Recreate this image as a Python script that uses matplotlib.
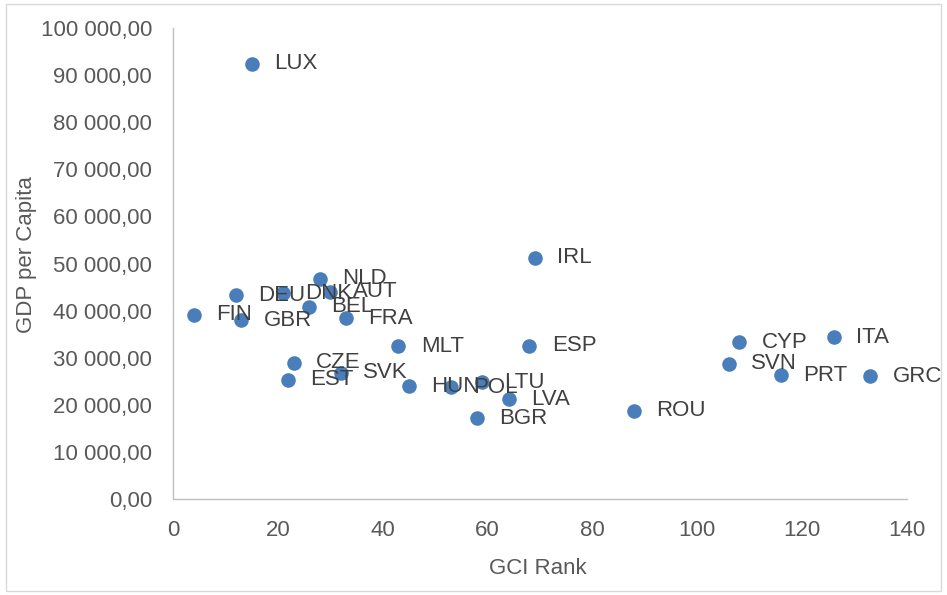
import matplotlib.pyplot as plt
from matplotlib.patches import Rectangle

plt.rcParams['font.family'] = ['Liberation Sans', 'DejaVu Sans']

# данные
countries = ['LUX', 'FIN', 'GBR', 'DEU', 'DNK', 'NLD', 'AUT', 'BEL', 'FRA', 'MLT',
             'CZE', 'EST', 'SVK', 'HUN', 'POL', 'LTU', 'LVA', 'BGR', 'ESP', 'IRL',
             'ROU', 'CYP', 'SVN', 'PRT', 'ITA', 'GRC']
gci_rank = [15, 4, 13, 12, 21, 28, 30, 26, 33, 43,
            23, 22, 32, 45, 53, 59, 64, 58, 68, 69,
            88, 108, 106, 116, 126, 133]
gdp_pc = [92400, 39100, 38000, 43300, 43700, 46800, 44000, 40800, 38400, 32400,
          28900, 25300, 26800, 23900, 23700, 24800, 21200, 17200, 32500, 51200,
          18700, 33300, 28700, 26300, 34300, 26100]

yticks = list(range(0, 100001, 10000))
ytick_labels = ['0,00'] + [f'{v // 1000} 000,00' for v in yticks[1:]]

fig = plt.figure(figsize=(9.47, 5.95), dpi=100)
ax = fig.add_axes([0.1827, 0.1613, 0.775, 0.7916])

ax.scatter(gci_rank, gdp_pc, s=110, color='#4a7ebb', zorder=3, linewidths=0)
for name, x, y in zip(countries, gci_rank, gdp_pc):
    ax.annotate(name, (x, y), xytext=(16, 0), textcoords='offset points',
                ha='left', va='center', fontsize=16, color='#404040')

ax.set_xlim(0, 140)
ax.set_ylim(0, 100000)
ax.set_xticks(range(0, 141, 20))
ax.set_yticks(yticks)
ax.set_yticklabels(ytick_labels)
ax.tick_params(length=0, labelsize=16, colors='#595959', pad=15)

for s in ['top', 'right']:
    ax.spines[s].set_visible(False)
for s in ['left', 'bottom']:
    ax.spines[s].set_color('#bfbfbf')
    ax.spines[s].set_linewidth(1)

ax.set_xlabel('GCI Rank', fontsize=16, color='#595959')
ax.set_ylabel('GDP per Capita', fontsize=16, color='#595959')
ax.xaxis.set_label_coords(0.497, -0.125)
ax.yaxis.set_label_coords(-0.186, 0.52)

# рамка
fig.patches.append(Rectangle((0.006, 0.006), 0.988, 0.988, transform=fig.transFigure,
                             fill=False, edgecolor='#d9d9d9', linewidth=1))

fig.savefig('out.png', dpi=100)
